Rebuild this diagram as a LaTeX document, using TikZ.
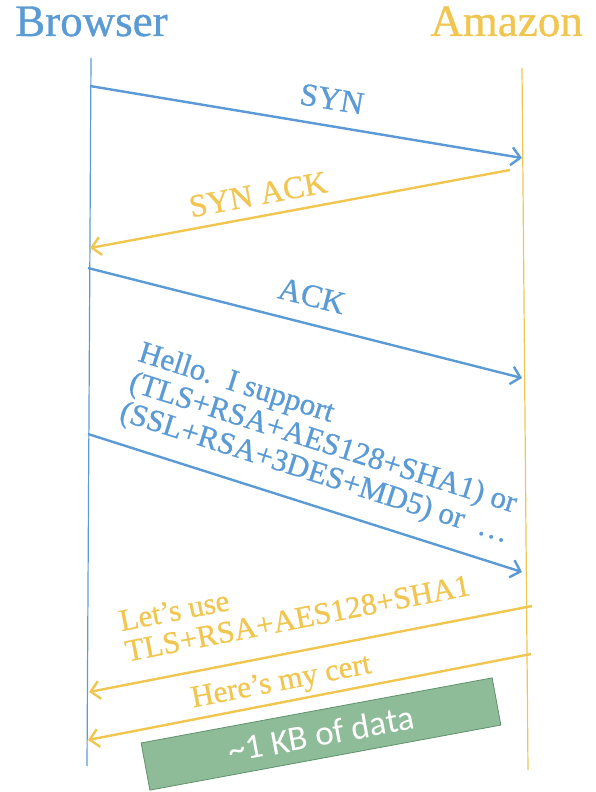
\documentclass[tikz,border=0pt]{standalone}
\usepackage{fontspec}
\setmainfont{Liberation Serif}[FakeBold=0.8]
\newfontfamily\datafont{Carlito}
\usetikzlibrary{arrows.meta, positioning}
\definecolor{browserblue}{RGB}{91,155,213}
\definecolor{amazongold}{RGB}{240,198,80}
\definecolor{datagreen}{RGB}{142,187,152}
\definecolor{dataedge}{RGB}{96,146,108}

\begin{document}
\begin{tikzpicture}[x=1pt, y=-1pt,
    party/.style={font=\fontsize{45}{45}\selectfont, inner sep=0pt},
    life/.style={line width=1.2pt},
    msg/.style={-{Straight Barb[length=9pt, width=18pt]}, line width=2.4pt},
    lab/.style={font=\fontsize{32}{32}\selectfont, sloped, inner sep=2pt},
    blk/.style={font=\fontsize{31}{31}\selectfont, align=left, inner sep=2pt},
    databox/.style={draw=dataedge, fill=datagreen, line width=0.8pt,
                    minimum width=357pt, minimum height=48pt, inner sep=0pt,
                    text=white, font=\datafont\fontsize{35}{35}\selectfont}]
  \useasboundingbox (0,0) rectangle (596,792);

  % the two parties
  \node[party, text=browserblue, anchor=base west] (browser) at (15,36) {Browser};
  \node[party, text=amazongold, anchor=base east] (amazon) at (583,36) {Amazon};

  % lifelines
  \coordinate (b-top) at (91,58);
  \coordinate (b-bot) at (87,766);
  \coordinate (a-top) at (522,68);
  \coordinate (a-bot) at (528,770);
  \draw[life, browserblue] (b-top) -- (b-bot);
  \draw[life, amazongold] (a-top) -- (a-bot);

  % handshake end points
  \coordinate (syn-b) at (90,86);    \coordinate (syn-a) at (522,158);
  \coordinate (sack-a) at (510,170); \coordinate (sack-b) at (90,248);
  \coordinate (ack-b) at (88,268);   \coordinate (ack-a) at (522,378);
  \coordinate (hi-b) at (88,434);    \coordinate (hi-a) at (522,572);
  \coordinate (use-a) at (532,606);  \coordinate (use-b) at (89,692);
  \coordinate (cert-a) at (531,654); \coordinate (cert-b) at (88,740);

  \draw[msg, browserblue] (syn-b) -- (syn-a)
    node[lab, text=browserblue, pos=0.55, above=13pt] {SYN};
  \draw[msg, amazongold] (sack-a) -- (sack-b)
    node[lab, text=amazongold, pos=0.59, above=8pt] {SYN ACK};
  \draw[msg, browserblue] (ack-b) -- (ack-a)
    node[lab, text=browserblue, pos=0.5, above=14pt] {ACK};
  \draw[msg, browserblue] (hi-b) -- (hi-a)
    node[blk, sloped, text=browserblue, pos=0.5, above=13pt]
    {Hello.\ \ I support\\(TLS+RSA+AES128+SHA1) or\\(SSL+RSA+3DES+MD5) or\ \ \dots};
  \draw[msg, amazongold] (use-a) -- (use-b)
    node[blk, sloped, text=amazongold, pos=0.515, above=19pt]
    {Let’s use\\TLS+RSA+AES128+SHA1};
  \draw[msg, amazongold] (cert-a) -- (cert-b)
    node[lab, font=\fontsize{31}{31}\selectfont, text=amazongold, pos=0.555, above=2pt] {Here’s my cert};

  % payload size
  \node[databox, rotate=10.5] (data) at (321,734) {\textasciitilde1 KB of data};
\end{tikzpicture}
\end{document}
